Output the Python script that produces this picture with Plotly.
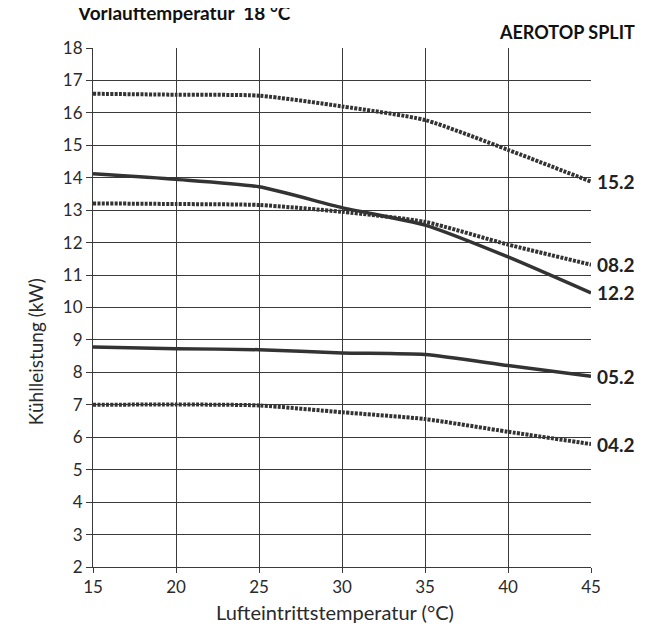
import plotly.graph_objects as go

# Lufteintrittstemperatur (°C)
temps = [15, 20, 25, 30, 35, 40, 45]

# Kühlleistung (kW) per model
s_15_2 = [16.59, 16.56, 16.53, 16.20, 15.78, 14.86, 13.88]
s_08_2 = [13.21, 13.19, 13.16, 12.95, 12.64, 11.94, 11.32]
s_12_2 = [14.12, 13.95, 13.72, 13.08, 12.54, 11.56, 10.45]
s_05_2 = [8.78, 8.73, 8.70, 8.60, 8.55, 8.21, 7.88]
s_04_2 = [7.00, 7.01, 6.98, 6.77, 6.56, 6.17, 5.79]

series_names = ["15.2", "08.2", "12.2", "05.2", "04.2"]
series_vals = [s_15_2, s_08_2, s_12_2, s_05_2, s_04_2]
dotted = [True, True, False, False, True]

dark = "#333333"
font = "Lato"

fig = go.Figure()
for name, vals, is_dot in zip(series_names, series_vals, dotted):
    fig.add_trace(go.Scatter(
        x=temps, y=vals, mode="lines", name=name,
        line=dict(color=dark, width=4 if is_dot else 3.5,
                  dash="3px,1.3px" if is_dot else "solid", shape="spline", smoothing=0.6),
        showlegend=False, hoverinfo="skip"))
    # label at the right end of each curve
    fig.add_annotation(x=temps[-1], y=vals[-1], text="<b>" + name + "</b>",
                       xanchor="left", yanchor="middle", xshift=4, showarrow=False,
                       font=dict(family=font, size=19, color="#222222"))

fig.add_annotation(xref="paper", yref="paper", x=0, y=1, xshift=-18, yshift=36,
                   text="<b>Vorlauftemperatur  18 °C</b>", showarrow=False,
                   xanchor="left", yanchor="middle",
                   font=dict(family=font, size=19, color="#111111"))
fig.add_annotation(xref="paper", yref="paper", x=1, y=1, xshift=46, yshift=16,
                   text="<b>AEROTOP SPLIT</b>", showarrow=False,
                   xanchor="right", yanchor="middle",
                   font=dict(family=font, size=18, color="#111111"))

# axis titles
fig.add_annotation(xref="paper", yref="paper", x=0.5, y=0, xshift=-7, yshift=-45,
                   text="Lufteintrittstemperatur (°C)", showarrow=False,
                   xanchor="center", yanchor="middle",
                   font=dict(family=font, size=20, color="#2a2a2a"))
fig.add_annotation(xref="paper", yref="paper", x=0, y=0.414, xshift=-58,
                   text="Kühlleistung (kW)", showarrow=False, textangle=-90,
                   xanchor="center", yanchor="middle",
                   font=dict(family=font, size=19, color="#2a2a2a"))

fig.update_layout(
    width=650, height=625,
    margin=dict(l=85, r=67, t=40, b=66),
    paper_bgcolor="white", plot_bgcolor="white",
    font=dict(family=font, size=17, color="#2a2a2a"),
)
fig.update_xaxes(range=[15, 45], dtick=5, showgrid=True, gridcolor="#3a3a3a", gridwidth=1,
                 showline=True, linecolor="#3a3a3a", linewidth=1,
                 ticks="outside", ticklen=5, tickcolor="#3a3a3a",
                 zeroline=False, fixedrange=True)
fig.update_yaxes(range=[2, 18], dtick=1, showgrid=True, gridcolor="#3a3a3a", gridwidth=1,
                 showline=True, linecolor="#3a3a3a", linewidth=1,
                 ticks="outside", ticklen=6, tickcolor="#3a3a3a",
                 zeroline=False, fixedrange=True)

fig.write_html("out.html")
